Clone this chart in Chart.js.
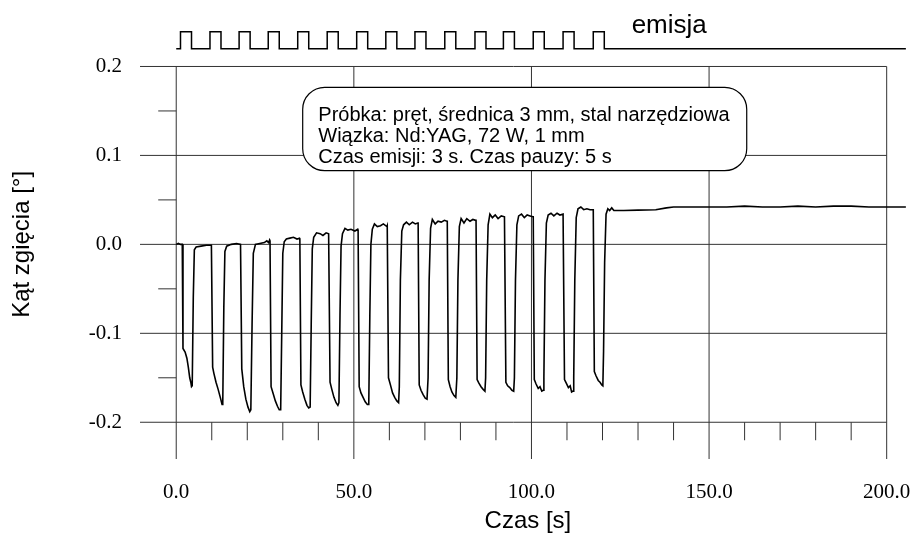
<!DOCTYPE html>
<html>
<head>
<meta charset="utf-8">
<title>Kąt zgięcia</title>
<script src="https://cdn.jsdelivr.net/npm/chart.js@4.4.1/dist/chart.umd.min.js"></script>
<style>
  body { margin: 0; background: #fff; }
  canvas { display: block; }
</style>
</head>
<body>
<canvas id="chart_1" width="913" height="537"></canvas>
<script>
// bending angle recording, one line per laser cycle
const time_s = [
  0, 0.6, 1.2,
  1.7, 1.9, 2.5, 3.0, 3.4, 3.8, 4.1, 4.3, 4.5, 4.8, 5.1, 5.6, 7.0, 8.5, 9.9,
  10.0, 10.25, 10.6, 11.2, 11.8, 12.4, 12.9, 13.1, 13.4, 13.7, 14.2, 15.5, 17.0, 18.1,
  18.2, 18.45, 19.0, 19.6, 20.2, 20.7, 21.0, 21.35, 21.7, 22.3, 23.5, 24.8, 25.5, 26.0, 26.3,
  26.4, 26.7, 27.3, 27.9, 28.5, 29.0, 29.4, 29.7, 30.0, 30.4, 31.0, 32.0, 33.0, 34.0, 34.7,
  34.8, 35.1, 35.6, 36.2, 36.8, 37.3, 37.7, 38.0, 38.3, 38.7, 39.5, 40.5, 41.3, 42.2, 42.9,
  43.0, 43.3, 43.8, 44.4, 45.0, 45.5, 45.8, 46.1, 46.4, 46.8, 47.5, 48.3, 49.2, 50.3, 51.1,
  51.2, 51.5, 52.0, 52.6, 53.2, 53.8, 54.2, 54.5, 54.8, 55.2, 55.8, 56.6, 57.5, 58.3, 59.3,
  59.4, 59.75, 60.3, 60.9, 61.5, 62.1, 62.6, 62.8, 63.1, 63.5, 64.0, 64.8, 65.6, 66.5, 67.3, 68.0,
  68.1, 68.4, 68.9, 69.5, 70.1, 70.6, 70.9, 71.2, 71.6, 72.1, 72.9, 73.7, 74.6, 75.5, 76.2,
  76.3, 76.6, 77.1, 77.6, 78.2, 78.7, 79.0, 79.3, 79.7, 80.2, 81.0, 81.8, 82.7, 83.5, 84.3,
  84.4, 84.7, 85.2, 85.8, 86.4, 86.9, 87.1, 87.4, 87.8, 88.3, 89.0, 89.8, 90.6, 91.5, 92.4,
  92.5, 92.8, 93.3, 93.9, 94.5, 95.0, 95.2, 95.5, 95.9, 96.4, 97.2, 98.0, 98.8, 99.6, 100.4,
  100.5, 100.8, 101.3, 101.9, 102.4, 102.9, 103.3, 103.5, 103.8, 104.2, 104.7, 105.5, 106.3, 107.2, 108.0, 108.9,
  109.0, 109.3, 109.8, 110.4, 110.9, 111.3, 111.7, 111.9, 112.2, 112.6, 113.1, 113.9, 114.7, 115.6, 116.5, 117.3,
  117.4, 117.7, 118.2, 118.8, 119.3, 119.8, 120.1, 120.3, 120.6, 121.0, 121.5, 122.0, 122.6, 123.2, 124.4,
  126, 130, 135, 138, 140, 145, 150, 155, 160, 165, 170, 175, 180, 185, 190, 195, 200, 205.4
]
const angle_deg = [
  0.000, 0.001, 0.000,
  0.000, -0.117, -0.121, -0.128, -0.138, -0.150, -0.155, -0.160, -0.159, -0.060, -0.006, -0.003, -0.002, -0.001, -0.001,
  -0.001, -0.138, -0.145, -0.155, -0.163, -0.172, -0.180, -0.179, -0.070, -0.008, -0.002, 0.000, 0.001, 0.000,
  0.000, -0.140, -0.160, -0.174, -0.183, -0.188, -0.186, -0.090, -0.010, 0.000, 0.001, 0.002, 0.004, 0.002, 0.005,
  0.004, -0.160, -0.168, -0.176, -0.182, -0.186, -0.186, -0.100, -0.010, 0.003, 0.006, 0.007, 0.008, 0.006, 0.007,
  0.006, -0.158, -0.166, -0.174, -0.181, -0.184, -0.183, -0.090, -0.005, 0.008, 0.013, 0.012, 0.010, 0.013, 0.012,
  0.012, -0.155, -0.163, -0.172, -0.178, -0.181, -0.178, -0.080, -0.002, 0.012, 0.018, 0.016, 0.017, 0.015, 0.017,
  0.016, -0.160, -0.167, -0.172, -0.177, -0.180, -0.180, -0.080, 0.000, 0.017, 0.023, 0.020, 0.021, 0.023, 0.020,
  0.021, -0.150, -0.158, -0.167, -0.172, -0.176, -0.178, -0.160, -0.040, 0.015, 0.022, 0.025, 0.022, 0.025, 0.023, 0.024,
  0.024, -0.158, -0.164, -0.169, -0.173, -0.174, -0.150, -0.040, 0.018, 0.028, 0.023, 0.026, 0.025, 0.027, 0.026,
  0.026, -0.152, -0.160, -0.166, -0.170, -0.172, -0.150, -0.040, 0.020, 0.029, 0.024, 0.029, 0.026, 0.028, 0.027,
  0.027, -0.152, -0.156, -0.160, -0.163, -0.165, -0.150, -0.040, 0.022, 0.034, 0.030, 0.033, 0.029, 0.032, 0.031,
  0.031, -0.155, -0.159, -0.161, -0.164, -0.165, -0.150, -0.040, 0.022, 0.032, 0.034, 0.030, 0.033, 0.032, 0.031,
  0.031, -0.152, -0.157, -0.162, -0.160, -0.165, -0.164, -0.150, -0.040, 0.024, 0.033, 0.035, 0.032, 0.035, 0.033, 0.034,
  0.034, -0.152, -0.156, -0.161, -0.159, -0.166, -0.165, -0.150, -0.040, 0.030, 0.040, 0.042, 0.039, 0.040, 0.039, 0.039,
  0.039, -0.143, -0.148, -0.153, -0.155, -0.158, -0.159, -0.120, -0.020, 0.034, 0.040, 0.038, 0.041, 0.038, 0.038,
  0.038, 0.0385, 0.039, 0.041, 0.042, 0.042, 0.042, 0.042, 0.043, 0.042, 0.042, 0.043, 0.042, 0.043, 0.043, 0.042, 0.042, 0.042
]

// laser pulses: start times [s], 3 s of emission each
const pulse_start = [1.2, 9.5, 17.7, 25.9, 34.2, 42.5, 50.8, 59.0, 67.2, 75.6, 84.1, 92.1, 100.5, 108.9, 117.4]
const pulse_length = 3.1
const record_end = 205.4
const emission_levels = [0.220, 0.239]   // off / on, drawn above the plot

const x_ticks = [0, 50, 100, 150, 200]
const x_minor = [10, 20, 30, 40, 60, 70, 80, 90, 110, 120, 130, 140, 160, 170, 180, 190]
const y_ticks = [-0.2, -0.1, 0.0, 0.1, 0.2]
const y_minor = [-0.15, -0.05, 0.05, 0.15]

const note_lines = [
  'Próbka: pręt, średnica 3 mm, stal narzędziowa',
  'Wiązka: Nd:YAG, 72 W, 1 mm',
  'Czas emisji: 3 s. Czas pauzy: 5 s'
]

function build_curve() {
  let pts = []
  for (let i = 0; i < time_s.length; i++) pts.push({ x: time_s[i], y: angle_deg[i] })
  return pts
}

function build_emission() {
  let lo = emission_levels[0], hi = emission_levels[1]
  let pts = [{ x: 0, y: lo }]
  pulse_start.forEach(function (s) {
    pts.push({ x: s, y: lo }, { x: s, y: hi }, { x: s + pulse_length, y: hi }, { x: s + pulse_length, y: lo })
  })
  pts.push({ x: record_end, y: lo })
  return pts
}

// grid, frame and tick marks
const frame_plugin = {
  id: 'frame',
  beforeDatasetsDraw(chart) {
    const ctx = chart.ctx
    const xs = chart.scales.x, ys = chart.scales.y
    const left = chart.chartArea.left, bottom = chart.chartArea.bottom
    const top = ys.getPixelForValue(0.2), base = ys.getPixelForValue(-0.2)
    const x0 = xs.getPixelForValue(0), xEnd = xs.getPixelForValue(200)
    ctx.save()
    ctx.lineWidth = 1
    ctx.strokeStyle = '#333'
    ctx.beginPath()
    y_ticks.forEach(function (v) {
      let py = ys.getPixelForValue(v)
      ctx.moveTo(left, py)
      ctx.lineTo(xEnd, py)
    })
    x_ticks.forEach(function (v) {
      let px = xs.getPixelForValue(v)
      ctx.moveTo(px, top)
      ctx.lineTo(px, bottom)
    })
    x_minor.forEach(function (v) {
      let px = xs.getPixelForValue(v)
      ctx.moveTo(px, base)
      ctx.lineTo(px, base + 18)
    })
    y_minor.forEach(function (v) {
      let py = ys.getPixelForValue(v)
      ctx.moveTo(x0 - 18, py)
      ctx.lineTo(x0, py)
    })
    ctx.stroke()
    ctx.restore()
  }
}

// note box, axis titles and the "emisja" label
const labels_plugin = {
  id: 'labels',
  afterDatasetsDraw(chart) {
    const ctx = chart.ctx
    const xs = chart.scales.x, ys = chart.scales.y
    ctx.save()

    let bx = xs.getPixelForValue(35.6), bx2 = xs.getPixelForValue(160.6)
    let by = ys.getPixelForValue(0.1766), by2 = ys.getPixelForValue(0.0828)
    ctx.beginPath()
    ctx.roundRect(bx, by, bx2 - bx, by2 - by, 22)
    ctx.fillStyle = '#fff'
    ctx.fill()
    ctx.lineWidth = 1.2
    ctx.strokeStyle = '#000'
    ctx.stroke()

    ctx.fillStyle = '#000'
    ctx.font = '20px "Liberation Sans", Arial, sans-serif'
    ctx.textAlign = 'left'
    ctx.textBaseline = 'alphabetic'
    note_lines.forEach(function (line, i) {
      ctx.fillText(line, bx + 15.6, by + 33.4 + i * 21.3)
    })

    ctx.font = '26px "Liberation Sans", Arial, sans-serif'
    ctx.fillText('emisja', xs.getPixelForValue(128.2), ys.getPixelForValue(0.2376))

    ctx.font = '24px "Liberation Sans", Arial, sans-serif'
    ctx.textAlign = 'center'
    ctx.textBaseline = 'middle'
    ctx.fillText('Czas [s]', xs.getPixelForValue(99), 521)

    ctx.translate(22, (ys.getPixelForValue(0.2) + ys.getPixelForValue(-0.2)) / 2)
    ctx.rotate(-Math.PI / 2)
    ctx.fillText('Kąt zgięcia [°]', 0, 0)
    ctx.restore()
  }
}

function draw_chart() {
  let ctx = document.getElementById('chart_1').getContext('2d')
  let tick_font = { family: '"Liberation Serif", "Times New Roman", serif', size: 21 }
  new Chart(ctx, {
    type: 'line',
    data: {
      datasets: [
        {
          label: 'Kąt zgięcia',
          data: build_curve(),
          borderColor: '#000',
          borderWidth: 1.6,
          pointRadius: 0,
          tension: 0
        },
        {
          label: 'emisja',
          data: build_emission(),
          borderColor: '#000',
          borderWidth: 1.5,
          pointRadius: 0,
          tension: 0
        }
      ]
    },
    options: {
      responsive: false,
      animation: false,
      devicePixelRatio: 1,
      layout: { padding: { top: 22, right: 5, left: 0, bottom: 0 } },
      plugins: { legend: { display: false }, tooltip: { enabled: false } },
      scales: {
        x: {
          type: 'linear',
          min: -10.2,
          max: 206,
          grid: { display: false },
          border: { display: false },
          afterBuildTicks: function (scale) { scale.ticks = x_ticks.map(function (v) { return { value: v } }) },
          afterFit: function (scale) {
            scale.height = 78
            scale.paddingLeft = 0
            scale.paddingRight = 0
          },
          ticks: {
            color: '#000',
            font: tick_font,
            padding: 13,
            maxRotation: 0,
            autoSkip: false,
            callback: function (v) { return v.toFixed(1) }
          }
        },
        y: {
          min: -0.2413,
          max: 0.25,
          grid: { display: false, drawTicks: false },
          border: { display: false },
          afterBuildTicks: function (scale) { scale.ticks = y_ticks.map(function (v) { return { value: v } }) },
          afterFit: function (scale) {
            scale.width = 140
            scale.paddingTop = 0
            scale.paddingBottom = 0
          },
          ticks: {
            color: '#000',
            font: tick_font,
            padding: 18,
            callback: function (v) { return v.toFixed(1) }
          }
        }
      }
    },
    plugins: [frame_plugin, labels_plugin]
  })
}

draw_chart()
</script>
</body>
</html>
